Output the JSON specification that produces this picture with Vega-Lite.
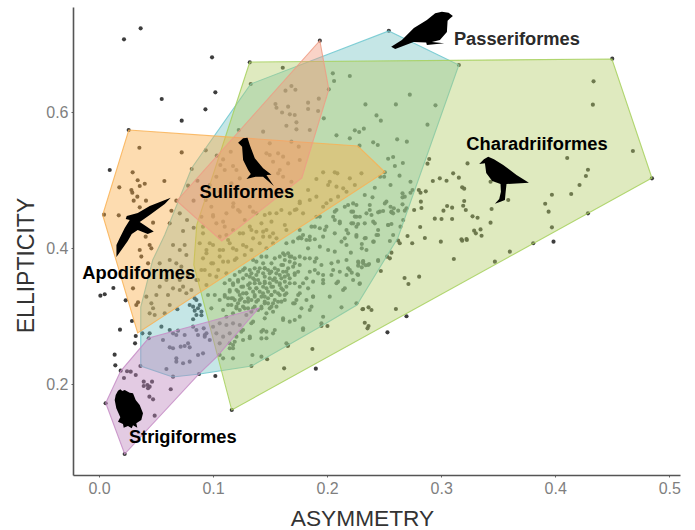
{"$schema":"https://vega.github.io/schema/vega-lite/v6.json","width":607,"height":468,"autosize":"none","padding":{"left":73,"top":7,"right":15,"bottom":55},"background":"white","config":{"view":{"stroke":null},"font":"Liberation Sans"},
"datasets":{
"hulls":[
{"o":"Passeriformes","i":1,"x":0.2541,"y":0.7199},{"o":"Passeriformes","i":2,"x":0.3155,"y":0.6698},{"o":"Passeriformes","i":3,"x":0.262,"y":0.415},{"o":"Passeriformes","i":4,"x":0.2261,"y":0.3163},{"o":"Passeriformes","i":5,"x":0.1936,"y":0.2839},{"o":"Passeriformes","i":6,"x":0.1339,"y":0.2265},{"o":"Passeriformes","i":7,"x":0.0883,"y":0.2147},{"o":"Passeriformes","i":8,"x":0.0646,"y":0.2103},{"o":"Passeriformes","i":9,"x":0.0366,"y":0.2265},{"o":"Passeriformes","i":10,"x":0.0366,"y":0.2795},{"o":"Passeriformes","i":11,"x":0.0366,"y":0.3134},{"o":"Passeriformes","i":12,"x":0.0471,"y":0.3826},{"o":"Passeriformes","i":13,"x":0.0576,"y":0.4194},{"o":"Passeriformes","i":14,"x":0.0813,"y":0.5181},{"o":"Passeriformes","i":15,"x":0.1331,"y":0.6418},
{"o":"Charadriiformes","i":1,"x":0.1322,"y":0.6742},{"o":"Charadriiformes","i":2,"x":0.0857,"y":0.4342},{"o":"Charadriiformes","i":3,"x":0.0831,"y":0.3753},{"o":"Charadriiformes","i":4,"x":0.1164,"y":0.1617},{"o":"Charadriiformes","i":5,"x":0.4848,"y":0.5034},{"o":"Charadriiformes","i":6,"x":0.4497,"y":0.6786},
{"o":"Apodiformes","i":1,"x":0.0261,"y":0.5741},{"o":"Apodiformes","i":2,"x":0.2269,"y":0.5505},{"o":"Apodiformes","i":3,"x":0.2506,"y":0.5122},{"o":"Apodiformes","i":4,"x":0.0339,"y":0.2751},{"o":"Apodiformes","i":5,"x":0.0032,"y":0.4489},
{"o":"Suliformes","i":1,"x":0.1936,"y":0.7056},{"o":"Suliformes","i":2,"x":0.2015,"y":0.6339},{"o":"Suliformes","i":3,"x":0.1778,"y":0.5034},{"o":"Suliformes","i":4,"x":0.1076,"y":0.4106},{"o":"Suliformes","i":5,"x":0.0682,"y":0.4695},
{"o":"Strigiformes","i":1,"x":0.1401,"y":0.3119},{"o":"Strigiformes","i":2,"x":0.0436,"y":0.2677},{"o":"Strigiformes","i":3,"x":0.019,"y":0.2191},{"o":"Strigiformes","i":4,"x":0.0059,"y":0.172},{"o":"Strigiformes","i":5,"x":0.0225,"y":0.0969},{"o":"Strigiformes","i":6,"x":0.0875,"y":0.2147},{"o":"Strigiformes","i":7,"x":0.1032,"y":0.2398}],
"labels":[{"o":"Passeriformes","x":0.3664,"y":0.7066},{"o":"Charadriiformes","x":0.384,"y":0.552},{"o":"Suliformes","x":0.1296,"y":0.4813},{"o":"Apodiformes","x":0.0348,"y":0.362},{"o":"Strigiformes","x":0.0734,"y":0.1205}],
"icons":[{"o":"Passeriformes","x":0.2831,"y":0.7214},{"o":"Charadriiformes","x":0.3544,"y":0.5004},{"o":"Suliformes","x":0.1366,"y":0.5299},{"o":"Apodiformes","x":0.0401,"y":0.4297},{"o":"Strigiformes","x":0.0263,"y":0.1617}],
"points":[
[0.0219,0.7076],[0.0365,0.7238],[0.0991,0.6811],[0.102,0.6295],[0.055,0.6197],[0.0933,0.6045],[0.0725,0.5878],[0.026,0.574],[0.1936,0.7056],[0.1322,0.6737],[0.1611,0.6658],[0.133,0.6418],[0.205,0.6575],[0.2061,0.6462],[0.2199,0.6536],[0.2015,0.6339],[0.1635,0.632],[0.1687,0.6388],[0.1722,0.6334],[0.1547,0.6123],[0.1556,0.6069],[0.1658,0.6084],[0.1833,0.6143],[0.1833,0.605],[0.1927,0.6202],[0.1921,0.602],[0.1605,0.5999],[0.1673,0.5971],[0.1716,0.5961],[0.2336,0.6118],[0.1971,0.5912],[0.1643,0.5804],[0.1731,0.5853],[0.1731,0.575],[0.1848,0.574],[0.1439,0.5716],[0.1225,0.574],[0.2082,0.5662],[0.2243,0.5736],[0.2281,0.5711],[0.2322,0.576],[0.2199,0.5618],[0.2284,0.551],[0.0354,0.548],[0.0725,0.5411],[0.0936,0.5441],[0.1032,0.5363],[0.0094,0.5151],[0.0295,0.5117],[0.0339,0.5],[0.0573,0.4989],[0.0401,0.495],[0.0357,0.4916],[0.0178,0.4896],[0.0284,0.4857],[0.0292,0.4818],[0.0336,0.4759],[0.0304,0.47],[0.0412,0.47],[0.0678,0.47],[0.0044,0.4494],[0.0173,0.4484],[0.0357,0.4602],[0.0635,0.4552],[0.0708,0.4513],[0.0813,0.5166],[0.0863,0.4994],[0.0781,0.4921],[0.0829,0.47],[0.0772,0.4415],[0.0474,0.4376],[0.0409,0.417],[0.0737,0.4253],[0.083,0.4302],
[0.1155,0.5421],[0.1088,0.5308],[0.1064,0.5225],[0.1175,0.521],[0.1205,0.5151],[0.1102,0.5151],[0.1029,0.5053],[0.0971,0.493],[0.1058,0.4832],[0.1161,0.4955],[0.1234,0.5028],[0.0936,0.471],[0.0985,0.4611],[0.1175,0.4611],[0.1117,0.4513],[0.1234,0.4538],[0.1322,0.4611],[0.138,0.4513],[0.1278,0.4415],[0.1,0.4488],[0.0898,0.4464],[0.0912,0.4317],[0.1029,0.4366],[0.1102,0.4317],[0.1175,0.4268],[0.1336,0.4268],[0.1424,0.4366],[0.1497,0.4513],[0.1599,0.4562],[0.1673,0.4513],[0.1731,0.4572],[0.1833,0.4857],[0.1497,0.5544],[0.1468,0.5397],[0.1497,0.5372],[0.157,0.5397],[0.1614,0.5348],[0.1526,0.5274],[0.1658,0.5249],[0.1687,0.5569],[0.1751,0.5495],[0.176,0.5299],[0.1585,0.5151],[0.1614,0.5053],[0.157,0.5102],[0.1687,0.4979],[0.157,0.4857],[0.1965,0.5117],[0.2067,0.5117],[0.209,0.5102],[0.1906,0.5019],[0.2023,0.4979],[0.2009,0.4931],[0.2082,0.4906],[0.2141,0.4881],[0.2301,0.5102],[0.2199,0.5029],[0.2243,0.4931],[0.217,0.4832],[0.2096,0.4759],[0.2032,0.471],[0.1906,0.4759],[0.1848,0.471],[0.176,0.4685],[0.1789,0.4513],[0.1965,0.4611],[0.1906,0.4464],[0.2053,0.4464],[0.1994,0.4317],[0.1863,0.4317],[0.176,0.4268],[0.1643,0.4268],[0.1526,0.4219],[0.1468,0.4268],[0.138,0.4243],[0.1439,0.417],[0.1556,0.4145],[0.1263,0.4219],[0.1117,0.4194],[0.1058,0.417],[0.233,0.4783],[0.2228,0.466],[0.2155,0.4611],[0.2082,0.4562],[0.2228,0.4538],[0.2257,0.4464],[0.2213,0.4366],[0.2111,0.4366],[0.217,0.4268],[0.2257,0.4317],[0.2345,0.4513],[0.2287,0.4464],[0.233,0.4366],[0.2067,0.4219],[0.1965,0.417],[0.1848,0.417],[0.176,0.416],[0.062,0.4366],
[0.2541,0.7203],[0.3155,0.6698],[0.45,0.6791],[0.4848,0.5029],[0.4336,0.6457],[0.433,0.6114],[0.4681,0.5431],[0.2725,0.6261],[0.2603,0.6118],[0.295,0.6104],[0.2433,0.5956],[0.2471,0.5878],[0.288,0.5819],[0.2614,0.5603],[0.2699,0.5569],[0.2404,0.5559],[0.2444,0.5519],[0.2895,0.5313],[0.288,0.5245],[0.2579,0.5343],[0.2535,0.5318],[0.2664,0.5255],[0.2594,0.521],[0.2635,0.5068],[0.2506,0.5117],[0.2465,0.5053],[0.25,0.5053],[0.2731,0.4979],[0.2556,0.4931],[0.2418,0.4891],[0.2804,0.4857],[0.2865,0.4837],[0.2819,0.4817],[0.2749,0.4857],[0.2731,0.4817],[0.2661,0.4808],[0.2681,0.4759],[0.2661,0.4749],[0.2398,0.4749],[0.252,0.4685],[0.2506,0.466],[0.2661,0.4646],[0.2822,0.4685],[0.2827,0.4592],[0.2696,0.4587],[0.2681,0.4553],[0.2763,0.4562],[0.2556,0.4611],[0.2585,0.4587],[0.2564,0.4528],[0.2579,0.4513],[0.2491,0.4548],[0.2447,0.4528],[0.2623,0.4553],[0.2389,0.4488],[0.2667,0.4415],[0.2564,0.4356],[0.2535,0.4341],[0.2643,0.4317],[0.2418,0.4366],[0.2447,0.4268],[0.2579,0.4194],[0.2705,0.4179],[0.2857,0.415],[0.2816,0.4312],[0.2944,0.4435],[0.3003,0.443],[0.3096,0.443],[0.302,0.4553],[0.3052,0.4621],[0.3096,0.4597],[0.3202,0.4695],[0.3193,0.4626],[0.3216,0.4562],[0.3275,0.4469],[0.3319,0.4449],[0.3433,0.4376],[0.3442,0.4577],[0.3588,0.471],[0.3289,0.4258],[0.3304,0.4219],[0.3345,0.4277],[0.3354,0.4184],[0.3222,0.4135],[0.3178,0.413],[0.2927,0.4989],[0.2988,0.5029],[0.3047,0.4994],[0.3105,0.5102],[0.3155,0.5039],[0.3184,0.4896],[0.3202,0.4877],[0.3231,0.5249],[0.3433,0.4979],[0.4105,0.5328],[0.4287,0.5156],[0.4269,0.5063],[0.4213,0.4931],[0.414,0.4798],[0.3971,0.4788],[0.3912,0.4655],[0.3942,0.4538],[0.4287,0.4513],[0.3971,0.4307],
[0.2746,0.4072],[0.2997,0.4096],[0.3184,0.4111],[0.3225,0.4121],[0.3807,0.4072],[0.3602,0.3949],[0.3985,0.4096],[0.3471,0.3802],[0.3111,0.3841],[0.2564,0.3934],[0.255,0.3851],[0.2526,0.3875],[0.2471,0.3664],[0.2679,0.3561],[0.2807,0.3581],[0.2713,0.3473],[0.2623,0.4111],[0.2637,0.4072],[0.255,0.4106],[0.2409,0.4096],[0.2447,0.4194],[0.2339,0.415],[0.2257,0.4194],[0.2304,0.4062],[0.2304,0.3998],[0.2208,0.3934],[0.2447,0.3811],[0.2368,0.3767],[0.2339,0.3748],[0.2316,0.3811],[0.2275,0.3787],[0.2304,0.3718],[0.2216,0.364],[0.2266,0.3615],[0.2284,0.3473],[0.2257,0.3188],[0.231,0.31],[0.2363,0.3129],[0.2389,0.309],[0.2603,0.3105],[0.2696,0.2997],[0.233,0.2903],[0.2363,0.2854],[0.2354,0.282],[0.2529,0.2761],
[0.0012,0.3301],[0.005,0.3321],[0.0126,0.3414],[0.0234,0.3232],[0.0289,0.2928],[0.0184,0.28],[0.0322,0.2707],[0.0316,0.2599],[0.0137,0.2432],[0.0143,0.2275],[0.019,0.2197],[0.0246,0.2187],[0.0278,0.2182],[0.0322,0.2133],[0.0219,0.2089],[0.0058,0.1716],[0.0225,0.0969],[0.0392,0.2035],[0.0392,0.1971],[0.0424,0.1986],[0.0444,0.1961],[0.0465,0.2035],[0.043,0.1937],[0.0629,0.1922],[0.0442,0.1814],[0.0474,0.1774],[0.0488,0.1534],[0.1164,0.1617],[0.102,0.2118],[0.0649,0.2108],[0.0591,0.2221],[0.0877,0.2148],[0.0363,0.2265],[0.0436,0.2673],[0.1336,0.2265],[0.1474,0.2364],[0.1623,0.2231],[0.1901,0.2226],[0.1871,0.2516],[0.1655,0.256],[0.1424,0.2403],[0.1345,0.2427],[0.1175,0.2378],[0.1088,0.2378],[0.1058,0.2427],[0.1146,0.2526],[0.1175,0.2526],[0.1322,0.2673],[0.1263,0.2648],[0.1468,0.2673],[0.1526,0.2746],[0.1439,0.2796],[0.1336,0.2894],[0.1263,0.2796],[0.1205,0.2697],[0.1146,0.2599],[0.1643,0.2599],[0.1789,0.2796],[0.195,0.2854],[0.2003,0.2854],[0.1848,0.309],[0.176,0.2992],[0.1614,0.2943],[0.1702,0.3188],[0.2316,0.3105],[0.214,0.3385],[0.2082,0.3483],[0.2228,0.3532],[0.2316,0.3777],[0.1965,0.3483],[0.1921,0.363],[0.2053,0.3679],[0.2199,0.3679],[0.2023,0.3286],[0.1877,0.3286],[0.176,0.3336],[0.1731,0.3237],[0.1789,0.3483],
[0.062,0.254],[0.0649,0.2526],[0.0716,0.255],[0.0751,0.256],[0.0795,0.254],[0.0781,0.2599],[0.0561,0.2648],[0.0649,0.2746],[0.0678,0.2722],[0.0693,0.2786],[0.0825,0.2845],[0.0854,0.2796],[0.0868,0.2722],[0.0927,0.2697],[0.0942,0.2746],[0.0751,0.2722],[0.0918,0.282],[0.0912,0.2452],[0.0868,0.2427],[0.0795,0.2329],[0.0737,0.2305],[0.0678,0.2378],[0.0678,0.2329],[0.038,0.2746],[0.0444,0.2746],[0.0547,0.2845],[0.062,0.2796],[0.0854,0.3237],[0.0825,0.3139],[0.0868,0.3115],[0.0898,0.3066],[0.0854,0.3016],[0.0825,0.2953],[0.0687,0.31],[0.0795,0.3164],[0.0883,0.3164],[0.0839,0.308],[0.0898,0.3012],[0.0298,0.3409],[0.0342,0.3203],[0.0327,0.3164],[0.0444,0.3041],[0.0488,0.3016],[0.0474,0.3115],[0.0459,0.3188],[0.0576,0.3041],[0.062,0.3164],[0.0605,0.3311],[0.0503,0.3311],[0.0415,0.3286],[0.0532,0.3434],[0.0649,0.3409],[0.0708,0.3385],[0.0737,0.3434],[0.0766,0.3336],[0.081,0.3385],[0.0839,0.3262],[0.0444,0.4047],[0.0459,0.3998],[0.0357,0.3974],[0.0371,0.3876],[0.043,0.3777],[0.0532,0.3777],[0.062,0.3826],[0.0678,0.3777],[0.0722,0.3728],[0.0766,0.39],[0.0708,0.3974],[0.0649,0.4047],[0.0751,0.4047],[0.0591,0.3532],[0.0708,0.3532],[0.0854,0.3532],[0.0781,0.3605],
[0.0883,0.4072],[0.0942,0.3974],[0.1,0.4047],[0.1088,0.3974],[0.1146,0.4072],[0.1205,0.3974],[0.1263,0.4047],[0.1336,0.3974],[0.1409,0.4072],[0.1468,0.4],[0.1526,0.4072],[0.0912,0.3851],[0.0985,0.3777],[0.1058,0.3876],[0.1132,0.3802],[0.1205,0.3851],[0.1278,0.39],[0.1351,0.3826],[0.0898,0.3679],[0.0971,0.3606],[0.1045,0.3679],[0.1117,0.363],[0.0868,0.3532],[0.0942,0.3458],
[0.1,0.4465],[0.0912,0.4219],[0.0971,0.4072],[0.1088,0.4391],[0.1178,0.4661],[0.1219,0.4563],[0.1351,0.4538],[0.1453,0.4489],[0.1556,0.4514],[0.1716,0.4563],[0.176,0.4661],[0.1994,0.4661],[0.1629,0.4342],[0.1512,0.4391],[0.1322,0.4317],[0.1234,0.4219],[0.1351,0.4145],[0.1439,0.4244],[0.1497,0.417],[0.1132,0.4121],[0.1058,0.3974],[0.1175,0.3998],[0.1292,0.4022],[0.0942,0.3925],[0.1,0.3777],[0.0927,0.3679],[0.1088,0.3802],[0.119,0.3826],[0.1029,0.3581],
[0.2067,0.4538],[0.2184,0.4636],[0.2257,0.4636],[0.2374,0.4636],[0.2374,0.4563],[0.2213,0.4538],[0.2243,0.4465],[0.2272,0.4356],[0.2228,0.4366],[0.2111,0.4391],[0.2067,0.4415],[0.2404,0.4391],[0.2462,0.4538],[0.2564,0.4538],[0.2535,0.4342],[0.2433,0.4194],[0.233,0.4145],[0.2404,0.4096],[0.2257,0.417],[0.2184,0.4219],[0.2155,0.4145],[0.2126,0.4096],[0.217,0.4047],[0.2345,0.3974],[0.1936,0.4465],[0.1892,0.4317],[0.1936,0.4293],[0.198,0.4268],[0.1819,0.4121],[0.1892,0.4131],[0.1936,0.4023],[0.2009,0.3974],[0.2067,0.3949],[0.1789,0.4194],[0.1833,0.3998],[0.1906,0.3851],[0.195,0.3753],[0.2038,0.3777],[0.2096,0.3802],[0.217,0.3826],[0.2272,0.3802],[0.2316,0.3802],[0.236,0.3753],[0.2272,0.3743],[0.2447,0.3826],[0.2184,0.3703],[0.2111,0.3654],[0.2038,0.3605],[0.1965,0.3605],[0.1892,0.3679],[0.1848,0.3654],[0.1819,0.3556],[0.1877,0.3507],[0.1965,0.3532],[0.2096,0.3507],[0.217,0.3605],[0.2272,0.3605],[0.2155,0.3409],[0.2287,0.3483],[0.176,0.3433],[0.1833,0.3409],[0.1746,0.3311],[0.1716,0.3188],[0.1819,0.3237],[0.1863,0.3139],[0.1775,0.3114],[0.1965,0.2991],[0.2126,0.3129],[0.195,0.2893],[0.1877,0.3286],[0.1614,0.2967],[0.1672,0.2918],[0.1716,0.2942],[0.1789,0.282],[0.1541,0.2795],[0.1453,0.2967],[0.1424,0.2771],[0.1468,0.2771],[0.1424,0.2672],[0.1322,0.2697],[0.1351,0.2918],[0.1248,0.2771],[0.119,0.2623],[0.1658,0.2574],
[0.1643,0.4072],[0.1702,0.4096],[0.1746,0.4145],[0.1775,0.4145],[0.1848,0.4121],[0.1614,0.3924],[0.1658,0.3924],[0.1687,0.3875],[0.1716,0.3851],[0.1672,0.3802],[0.1629,0.3826],[0.1585,0.3875],[0.1541,0.3851],[0.1512,0.3777],[0.1468,0.3875],[0.1424,0.3875],[0.138,0.3802],[0.1439,0.3777],[0.1409,0.3703],[0.1365,0.3703],[0.1322,0.3679],[0.1278,0.3703],[0.1234,0.3654],[0.119,0.3605],[0.1146,0.3532],[0.1102,0.3483],[0.1175,0.3483],[0.1219,0.3532],[0.1263,0.3556],[0.1322,0.3581],[0.138,0.3605],[0.1439,0.363],[0.1482,0.3679],[0.1541,0.3703],[0.1599,0.3753],[0.1658,0.3703],[0.1702,0.3728],[0.176,0.3875],[0.1804,0.3851],[0.1848,0.3851],[0.1892,0.3802],[0.176,0.3753],[0.1746,0.3654],[0.1716,0.3605],[0.1658,0.3605],[0.1614,0.3654],[0.1585,0.3605],[0.1541,0.3556],[0.1497,0.3556],[0.1453,0.3507],[0.1409,0.3483],[0.1365,0.3483],[0.1307,0.3458],[0.1248,0.3433],[0.1205,0.3384],[0.1146,0.336],[0.1102,0.3311],[0.1058,0.3237],[0.1015,0.3311],[0.0956,0.3311],[0.0985,0.3114],[0.1088,0.309],[0.1132,0.3262],[0.1175,0.3262],[0.1234,0.3311],[0.1292,0.3335],[0.1351,0.336],[0.1409,0.336],[0.1468,0.3409],[0.1526,0.3433],[0.1585,0.3483],[0.1629,0.3507],[0.1672,0.3483],[0.1716,0.3483],[0.1512,0.3311],[0.1453,0.3286],[0.1395,0.3237],[0.1336,0.3237],[0.1278,0.3212],[0.1219,0.3188],[0.1161,0.3163],[0.1234,0.309],[0.1307,0.3114],[0.1365,0.3139],[0.1424,0.3139],[0.1482,0.3188],[0.1541,0.3237],[0.1585,0.3311],[0.1614,0.3384],[0.1643,0.3335],[0.1556,0.3139],[0.1526,0.3065],[0.1468,0.3041],[0.1395,0.309],[0.1629,0.3237],[0.1117,0.2991],[0.1175,0.3041],[0.1292,0.3016],
[0.1263,0.3335],[0.1322,0.3409],[0.138,0.3409],[0.1439,0.3433],[0.1497,0.3483],[0.1555,0.3507],[0.1482,0.336],[0.1424,0.3286],[0.1365,0.3286],[0.1307,0.3262],[0.1248,0.3262],[0.119,0.3237],[0.1205,0.3114],[0.1263,0.3139],[0.1336,0.3065],[0.1453,0.3188],[0.1512,0.3139],[0.157,0.3212],[0.1482,0.3262],[0.1541,0.336],[0.1599,0.3409],[0.1497,0.363],[0.1555,0.363],[0.1395,0.3532],[0.1351,0.3556],[0.1292,0.3605],[0.1453,0.3703],[0.1629,0.3581],
[0.1628,0.39],[0.1672,0.3876],[0.1716,0.3777],[0.1614,0.3753],[0.157,0.3679],[0.1643,0.3655],[0.1511,0.3655],[0.1453,0.3704],[0.1395,0.3655],[0.1336,0.363],[0.1263,0.3679],[0.1365,0.3532],[0.1453,0.3581],[0.1526,0.3532],[0.1599,0.3556],[0.1672,0.3556],[0.1716,0.363],[0.1322,0.3483],[0.138,0.3409],[0.1453,0.3483],[0.1511,0.3434],[0.1584,0.3458],[0.1643,0.3434],[0.1219,0.3507],[0.1176,0.3458],[0.1263,0.3434],[0.1146,0.3385],[0.1219,0.336],[0.1292,0.3335],[0.1365,0.3311],[0.1438,0.3335],[0.1511,0.3311],[0.157,0.3335],[0.1628,0.3311],[0.1103,0.3286],[0.1161,0.3262],[0.1234,0.3237],[0.1307,0.3213],[0.138,0.3213],[0.1453,0.3213],[0.1526,0.3188],[0.1599,0.3213],[0.1132,0.3164],[0.1205,0.3139],[0.1278,0.3114],[0.1351,0.3114],[0.1424,0.3114],[0.1497,0.3114],
[0.1,0.2844],[0.1058,0.2893],[0.1117,0.2869],[0.1175,0.2893],[0.1029,0.2746],[0.1088,0.2697],[0.1146,0.2746],[0.0971,0.2648],[0.1058,0.2599],[0.1175,0.2574],[0.0927,0.2721],[0.1234,0.2869]]},
"layer":[
{"data":{"name":"points"},"mark":{"type":"circle","size":17,"color":"#333333","opacity":0.95},
"encoding":{"x":{"field":"0","type":"quantitative","scale":{"domain":[-0.0228,0.5094],"nice":false,"zero":false},"axis":{"title":"ASYMMETRY","titleX":289,"titleY":50,"titleAnchor":"middle","titleBaseline":"alphabetic","values":[0,0.1,0.2,0.3,0.4,0.5],"format":".1f","grid":false,"domainColor":"#555555","domainWidth":1.6,"tickColor":"#666666","tickSize":2,"tickWidth":1,"labelColor":"#7f7f7f","labelFontSize":16,"labelFont":"Liberation Sans","labelPadding":3,"labelFlush":false,"titleFontSize":22.7,"titleFontWeight":"normal","titleColor":"#333333","titleFont":"Liberation Sans"}},
"y":{"field":"1","type":"quantitative","scale":{"domain":[0.066,0.7552],"nice":false,"zero":false},"axis":{"title":"ELLIPTICITY","titleX":-40,"titleY":258,"titleAnchor":"middle","titleBaseline":"alphabetic","values":[0.2,0.4,0.6],"format":".1f","grid":false,"domainColor":"#555555","domainWidth":1.6,"tickColor":"#666666","tickSize":2,"tickWidth":1,"labelColor":"#7f7f7f","labelFontSize":16,"labelFont":"Liberation Sans","labelPadding":3,"titleFontSize":23,"titleFontWeight":"normal","titleColor":"#333333","titleFont":"Liberation Sans"}}}},
{"data":{"name":"hulls"},"mark":{"type":"line","interpolate":"linear-closed","strokeWidth":1.1,"fillOpacity":0.42,"strokeOpacity":0.85},
"encoding":{"x":{"field":"x","type":"quantitative"},"y":{"field":"y","type":"quantitative"},"order":{"field":"i","type":"ordinal"},
"stroke":{"field":"o","type":"nominal","legend":null,"scale":{"domain":["Passeriformes","Charadriiformes","Apodiformes","Suliformes","Strigiformes"],"range":["#6cc7cf","#a6d05c","#f9b155","#ee9c85","#c58cc5"]}},
"fill":{"field":"o","type":"nominal","legend":null,"scale":{"domain":["Passeriformes","Charadriiformes","Apodiformes","Suliformes","Strigiformes"],"range":["#75c3c3","#b3cd67","#faac43","#f0957a","#bc83bc"]}}}},
{"data":{"name":"icons"},"mark":{"type":"point","filled":true,"size":4,"color":"black","opacity":1,"strokeWidth":0},
"encoding":{"x":{"field":"x","type":"quantitative"},"y":{"field":"y","type":"quantitative"},
"shape":{"field":"o","type":"nominal","legend":null,"scale":{"domain":["Passeriformes","Charadriiformes","Suliformes","Apodiformes","Strigiformes"],"range":[
"M-30.7,16.7L-20,10L-8,-2L5,-10L13.3,-16.7L20,-18.3L26.7,-17.3L31,-14L28.3,-11.7L25.7,-9.3L25,2L18,10L10,12L22.3,13.3L5,15L4.3,12.5L-8.3,12L-26.7,19Z",
"M-24,-16L-19.3,-20.7L-15,-23.3L-9.3,-20.7L0,-15L13.3,-5L25.7,2.7L3.3,4L2.3,13.3L1.7,20L-2.7,21.7L-8.3,23.7L-4,19L-2.3,11.7L-2.7,4L-11,1L-17,-7L-18.3,-16.7Z",
"M-16.7,-17.3L-11.7,-21.7L-7.3,-22.3L-5,-15L0,-1.7L8.3,8.3L16.7,14.7L11.7,15L19,26L8.3,16.7L0.7,16.7L-8.3,19L-4,14L-6.7,10L-11.7,0L-12.7,-13.3Z",
"M26,-30.3L5,-22L-7,-15L-18,-12L-19,-9L-15,-8L-20,0L-25,10L-28.3,17L-28.3,29L-17,13L-13,6L-7,2L3,6L9,3.5L1,-2L-5,-6L5,-13L20,-24Z",
"M-13.3,-15L-11,-19.3L-8.7,-20.7L-6.7,-19L-4.3,-20L0.7,-17.3L4,-16.7L6.7,-10L10.7,-5L14,3.3L12.3,10L7.3,13.3L8.3,17.7L4,15.3L2.7,18.3L-1,16L-5.3,17.7L-6,14L-11,11.7L-8.7,7.3L-12.7,-1.7L-14.3,-10Z"]}}}},
{"data":{"name":"labels"},"mark":{"type":"text","font":"Liberation Sans","fontWeight":"bold","fontSize":18.3,"align":"center","baseline":"middle"},
"encoding":{"x":{"field":"x","type":"quantitative"},"y":{"field":"y","type":"quantitative"},"text":{"field":"o","type":"nominal"},
"color":{"field":"o","type":"nominal","legend":null,"scale":{"domain":["Passeriformes","Charadriiformes","Suliformes","Apodiformes","Strigiformes"],"range":["#2b2b2b","#000000","#000000","#000000","#000000"]}}}}
]}
